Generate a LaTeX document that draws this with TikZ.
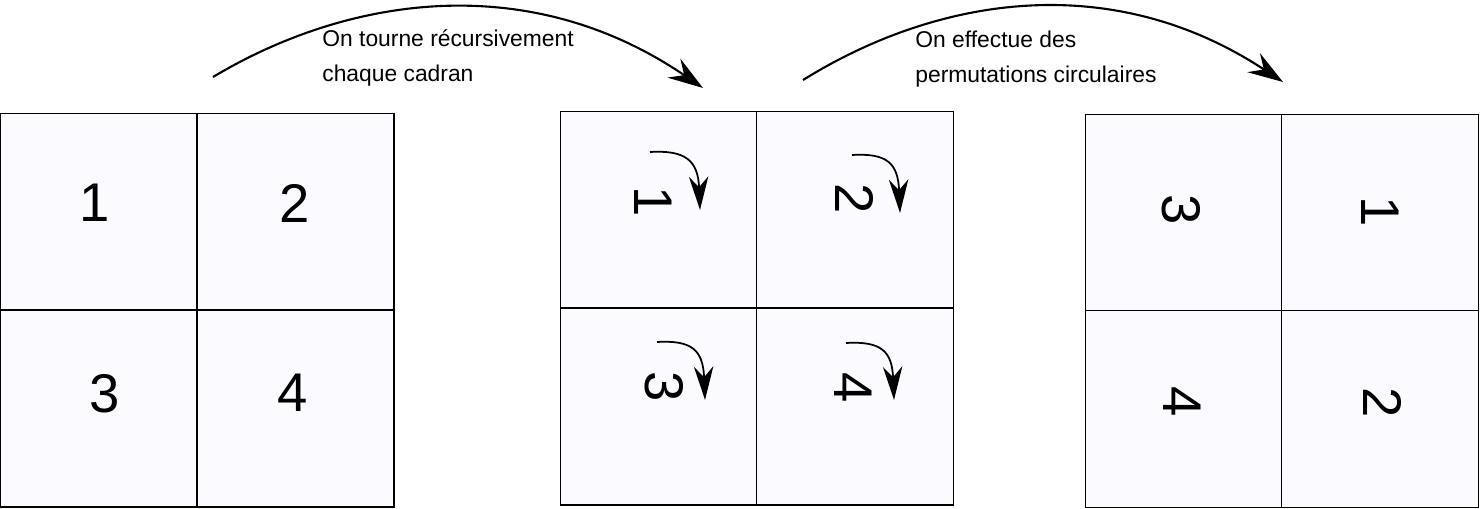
\documentclass[tikz,border=0pt]{standalone}
\usepackage{fontspec}
\setmainfont{Liberation Sans}
\usetikzlibrary{arrows.meta}
\definecolor{cellfill}{RGB}{250,250,255}

\begin{document}
\begin{tikzpicture}[
    x=0.02cm, y=-0.02cm,
    cell/.style={rectangle, draw, fill=cellfill, line width=1pt, minimum size=3.94cm, inner sep=0pt, outer sep=0pt},
    digit/.style={inner sep=0pt, font=\fontsize{31}{31}\selectfont},
    rdigit/.style={digit, rotate=-90},
    note/.style={align=left, anchor=base west, inner sep=0pt, font=\fontsize{13}{20}\selectfont},
    arrow/.style={-{Stealth[length=20pt, width=13pt, inset=7pt]}, line width=1.2pt},
    turn/.style={-{Stealth[length=19pt, width=11pt, inset=6pt]}, line width=1pt}
]
    \useasboundingbox (0,0) rectangle (1480,509);

    % starting grid
    \node[cell] (a1) at (98.5,212) {};
    \node[cell] (a2) at (295.5,212) {};
    \node[cell] (a3) at (98.5,408.5) {};
    \node[cell] (a4) at (295.5,408.5) {};
    \node[digit] (na1) at (95,203) {1};
    \node[digit] (na2) at (295,203) {2};
    \node[digit] (na3) at (105,394) {3};
    \node[digit] (na4) at (293,393) {4};

    % each quadrant turned
    \node[cell] (b1) at (659,210) {};
    \node[cell] (b2) at (855,210) {};
    \node[cell] (b3) at (659,406.5) {};
    \node[cell] (b4) at (855,406.5) {};
    \node[rdigit] (nb1) at (653,202) {1};
    \node[rdigit] (nb2) at (855,199) {2};
    \node[rdigit] (nb3) at (664,387) {3};
    \node[rdigit] (nb4) at (853,388) {4};

    % quadrants permuted
    \node[cell] (c1) at (1184,213) {};
    \node[cell] (c2) at (1380,213) {};
    \node[cell] (c3) at (1184,409) {};
    \node[cell] (c4) at (1380,409) {};
    \node[rdigit] (nc1) at (1181,210) {3};
    \node[rdigit] (nc2) at (1380,212) {1};
    \node[rdigit] (nc3) at (1182,402) {4};
    \node[rdigit] (nc4) at (1382,403) {2};

    % captions
    \node[note] (rotnote) at (322,82) {On tourne récursivement\\chaque cadran};
    \node[note] (permnote) at (915,83) {On effectue des\\permutations circulaires};

    % big arrows
    \coordinate (rotstart) at (213,77);
    \coordinate (rotend) at (703,88);
    \coordinate (permstart) at (803,80);
    \coordinate (permend) at (1283,82);
    \draw[arrow] (rotstart) .. controls (350,-5) and (530,-30) .. (rotend);
    \draw[arrow] (permstart) .. controls (940,-5) and (1113,-30) .. (permend);

    % small turning arrows
    \coordinate (t1s) at (650,152);
    \coordinate (t1e) at (700,210);
    \coordinate (t2s) at (852,155);
    \coordinate (t2e) at (900,213);
    \coordinate (t3s) at (657,342);
    \coordinate (t3e) at (705,400);
    \coordinate (t4s) at (846,343);
    \coordinate (t4e) at (894,400);
    \draw[turn] (t1s) .. controls (685,150) and (698,160) .. (t1e);
    \draw[turn] (t2s) .. controls (887,153) and (898,163) .. (t2e);
    \draw[turn] (t3s) .. controls (692,340) and (703,350) .. (t3e);
    \draw[turn] (t4s) .. controls (881,341) and (892,351) .. (t4e);
\end{tikzpicture}
\end{document}
